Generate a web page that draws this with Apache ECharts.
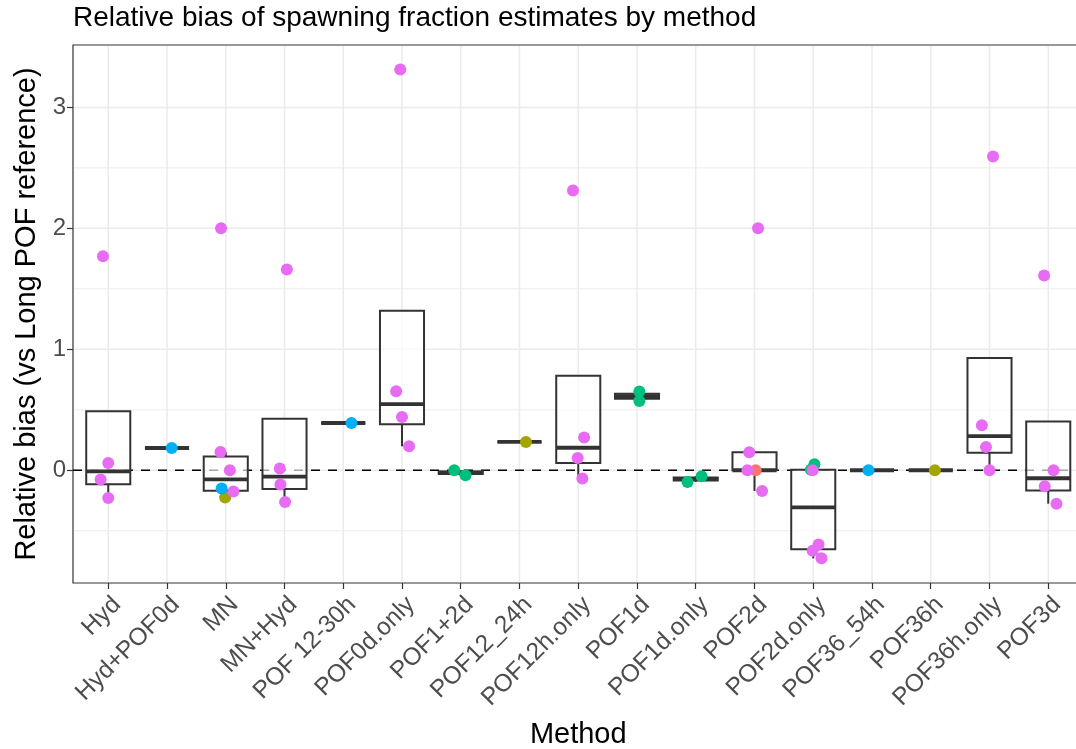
<!DOCTYPE html>
<html>
<head>
<meta charset="utf-8">
<script src="https://cdn.jsdelivr.net/npm/echarts@6/dist/echarts.min.js"></script>
<style>
  html, body { margin: 0; padding: 0; background: #ffffff; overflow: hidden; }
  #chart { width: 1076px; height: 749px; }
</style>
</head>
<body>
<div id="chart"></div>
<script>
// Estimation methods, in axis order
const methods = ['Hyd', 'Hyd+POF0d', 'MN', 'MN+Hyd', 'POF 12-30h', 'POF0d.only', 'POF1+2d',
  'POF12_24h', 'POF12h.only', 'POF1d', 'POF1d.only', 'POF2d', 'POF2d.only', 'POF36_54h',
  'POF36h', 'POF36h.only', 'POF3d'];

// One entry per estimate: method index, relative bias, horizontal jitter (category units), colour group
const estMethod = [0, 0, 0, 0,  1,  2, 2, 2, 2, 2, 2,  3, 3, 3, 3,  4,  5, 5, 5, 5,  6, 6,  7,
  8, 8, 8, 8,  9, 9,  10, 10,  11, 11, 11, 11, 11,  12, 12, 12, 12, 12, 12,  13,  14,
  15, 15, 15, 15,  16, 16, 16, 16];
const estBias = [0.06, -0.077, -0.229, 1.77,  0.184,  0.151, 0.0, -0.15, -0.175, -0.226, 2.0,
  0.014, -0.118, -0.262, 1.66,  0.391,  0.653, 0.441, 0.198, 3.314,  0.0, -0.041,  0.234,
  0.27, 0.102, -0.069, 2.314,  0.652, 0.572,  -0.096, -0.049,  0.149, 0.0, 0.0, -0.171, 2.0,
  0.05, 0.005, 0.0, -0.614, -0.665, -0.728,  0.0,  0.0,
  0.372, 0.193, 0.0, 2.595,  0.0, -0.132, -0.276, 1.61];
const estJitter = [0.0, -0.13, 0.0, -0.09,  0.08,  -0.09, 0.07, -0.07, 0.13, -0.01, -0.08,
  -0.08, -0.07, 0.01, 0.04,  0.14,  -0.10, 0.0, 0.12, -0.03,  -0.11, 0.08,  0.11,
  0.10, -0.01, 0.07, -0.09,  0.04, 0.04,  -0.14, 0.10,  -0.09, -0.12, 0.02, 0.13, 0.06,
  0.02, -0.04, -0.01, 0.09, -0.01, 0.14,  -0.06,  0.07,
  -0.13, -0.06, 0.0, 0.06,  0.09, -0.06, 0.14, -0.07];
const estGroup = [4, 4, 4, 4,  3,  4, 4, 3, 4, 1, 4,  4, 4, 4, 4,  3,  4, 4, 4, 4,  2, 2,  1,
  4, 4, 4, 4,  2, 2,  2, 2,  4, 4, 0, 4, 4,  2, 2, 4, 4, 4, 4,  3,  1,
  4, 4, 4, 4,  4, 4, 4, 4];

// Colour groups (hue palette) and the order they are layered in
const groupColors = ['#F8766D', '#A3A500', '#00BF7D', '#00B0F6', '#E76BF3'];
const groupDrawOrder = [1, 2, 0, 3, 4];

// Axis ticks and reference lines
const yMajorTicks = [0, 1, 2, 3];
const yMinorTicks = [-0.5, 0.5, 1.5, 2.5];
const referenceBias = 0;

const FONT = '"Liberation Sans", Arial, Helvetica, sans-serif';
const INK = '#333333';

// Tukey box statistics with type-7 quantiles; whisker ends never fall inside the box
function quantile(sorted, p) {
  const h = (sorted.length - 1) * p;
  const lo = Math.floor(h);
  const hi = Math.min(lo + 1, sorted.length - 1);
  return sorted[lo] + (h - lo) * (sorted[hi] - sorted[lo]);
}
const boxData = methods.map((m, i) => {
  const v = estBias.filter((_, k) => estMethod[k] === i).sort((a, b) => a - b);
  const q1 = quantile(v, 0.25), med = quantile(v, 0.5), q3 = quantile(v, 0.75);
  const iqr = q3 - q1;
  const inside = v.filter(x => x >= q1 - 1.5 * iqr && x <= q3 + 1.5 * iqr);
  return [i, Math.min(q1, ...inside), q1, med, q3, Math.max(q3, ...inside)];
});

// Panel grid lines: [x, y, kind] with kind 0 = vertical major, 1 = horizontal major, 2 = horizontal minor
const gridLineData = methods.map((_, i) => [i, 0, 0])
  .concat(yMajorTicks.map(v => [0, v, 1]))
  .concat(yMinorTicks.map(v => [0, v, 2]));

const scatterSeries = groupDrawOrder.map(g => ({
  type: 'scatter',
  z: 5,
  symbol: 'circle',
  symbolSize: 12,
  itemStyle: { color: groupColors[g], opacity: 1 },
  silent: true,
  data: estBias.map((b, k) => estGroup[k] === g ? [estMethod[k] + estJitter[k], b] : null)
    .filter(d => d !== null)
}));

const chart = echarts.init(document.getElementById('chart'), null, { renderer: 'canvas' });
chart.setOption({
  animation: false,
  backgroundColor: '#ffffff',
  title: {
    text: 'Relative bias of spawning fraction estimates by method',
    left: 73,
    top: 4,
    padding: 0,
    textStyle: { fontFamily: FONT, fontSize: 28, fontWeight: 'normal', color: '#000000' }
  },
  grid: {
    left: 73, top: 45, width: 1010.5, height: 538,
    outerBoundsMode: 'none',
    show: true, borderColor: INK, borderWidth: 1.2, backgroundColor: '#ffffff'
  },
  xAxis: {
    type: 'value',
    min: -0.6, max: 16.6,
    name: 'Method',
    nameLocation: 'middle',
    nameGap: 137,
    nameTextStyle: { fontFamily: FONT, fontSize: 29, color: '#000000' },
    axisLine: { show: false, onZero: false },
    axisTick: { show: true, length: 6, lineStyle: { color: INK, width: 1.2 },
      customValues: methods.map((_, i) => i) },
    axisLabel: {
      customValues: methods.map((_, i) => i),
      formatter: v => methods[Math.round(v)] || '',
      rotate: 45, align: 'right', verticalAlign: 'top', margin: 9,
      fontFamily: FONT, fontSize: 24.5, color: '#4D4D4D'
    },
    splitLine: { show: false }
  },
  yAxis: {
    type: 'value',
    min: -0.932, max: 3.516,
    name: 'Relative bias (vs Long POF reference)',
    nameLocation: 'middle',
    nameGap: 26,
    nameTextStyle: { fontFamily: FONT, fontSize: 29, color: '#000000' },
    axisLine: { show: false, onZero: false },
    axisTick: { show: true, length: 6, lineStyle: { color: INK, width: 1.2 }, customValues: yMajorTicks },
    axisLabel: { customValues: yMajorTicks, margin: 7, fontFamily: FONT, fontSize: 24, color: '#4D4D4D' },
    splitLine: { show: false }
  },
  series: [
    {
      type: 'custom',
      z: 1,
      silent: true,
      clip: true,
      data: gridLineData,
      renderItem(params, api) {
        const cs = params.coordSys;
        const kind = api.value(2);
        if (kind === 0) {
          const x = api.coord([api.value(0), 0])[0];
          return { type: 'line', shape: { x1: x, y1: cs.y + 1, x2: x, y2: cs.y + cs.height - 1 },
            style: { stroke: '#EBEBEB', lineWidth: 1.5 } };
        }
        const y = api.coord([0, api.value(1)])[1];
        return { type: 'line', shape: { x1: cs.x + 1, y1: y, x2: cs.x + cs.width, y2: y },
          style: { stroke: '#EBEBEB', lineWidth: kind === 1 ? 1.5 : 0.9 } };
      }
    },
    {
      type: 'custom',
      z: 2,
      silent: true,
      clip: true,
      data: [[0, referenceBias]],
      renderItem(params, api) {
        const cs = params.coordSys;
        const y = api.coord([0, api.value(1)])[1];
        return { type: 'line', shape: { x1: cs.x, y1: y, x2: cs.x + cs.width, y2: y },
          style: { stroke: '#000000', lineWidth: 1.5, lineDash: [9, 8] } };
      }
    },
    {
      type: 'custom',
      z: 3,
      silent: true,
      clip: true,
      data: boxData,
      renderItem(params, api) {
        const i = api.value(0);
        const cx = api.coord([i, 0])[0];
        const half = api.size([0.75, 0])[0] / 2;
        const yLo = api.coord([i, api.value(1)])[1];
        const yQ1 = api.coord([i, api.value(2)])[1];
        const yMed = api.coord([i, api.value(3)])[1];
        const yQ3 = api.coord([i, api.value(4)])[1];
        const yHi = api.coord([i, api.value(5)])[1];
        const stroke = { stroke: INK, lineWidth: 2 };
        return {
          type: 'group',
          children: [
            { type: 'line', shape: { x1: cx, y1: yQ1, x2: cx, y2: yLo }, style: stroke },
            { type: 'line', shape: { x1: cx, y1: yQ3, x2: cx, y2: yHi }, style: stroke },
            { type: 'rect', shape: { x: cx - half, y: yQ3, width: 2 * half, height: yQ1 - yQ3 },
              style: { fill: 'rgba(255,255,255,0.65)', stroke: INK, lineWidth: 2 } },
            { type: 'line', shape: { x1: cx - half, y1: yMed, x2: cx + half, y2: yMed },
              style: { stroke: INK, lineWidth: 3.8 } }
          ]
        };
      }
    }
  ].concat(scatterSeries)
});
</script>
</body>
</html>
